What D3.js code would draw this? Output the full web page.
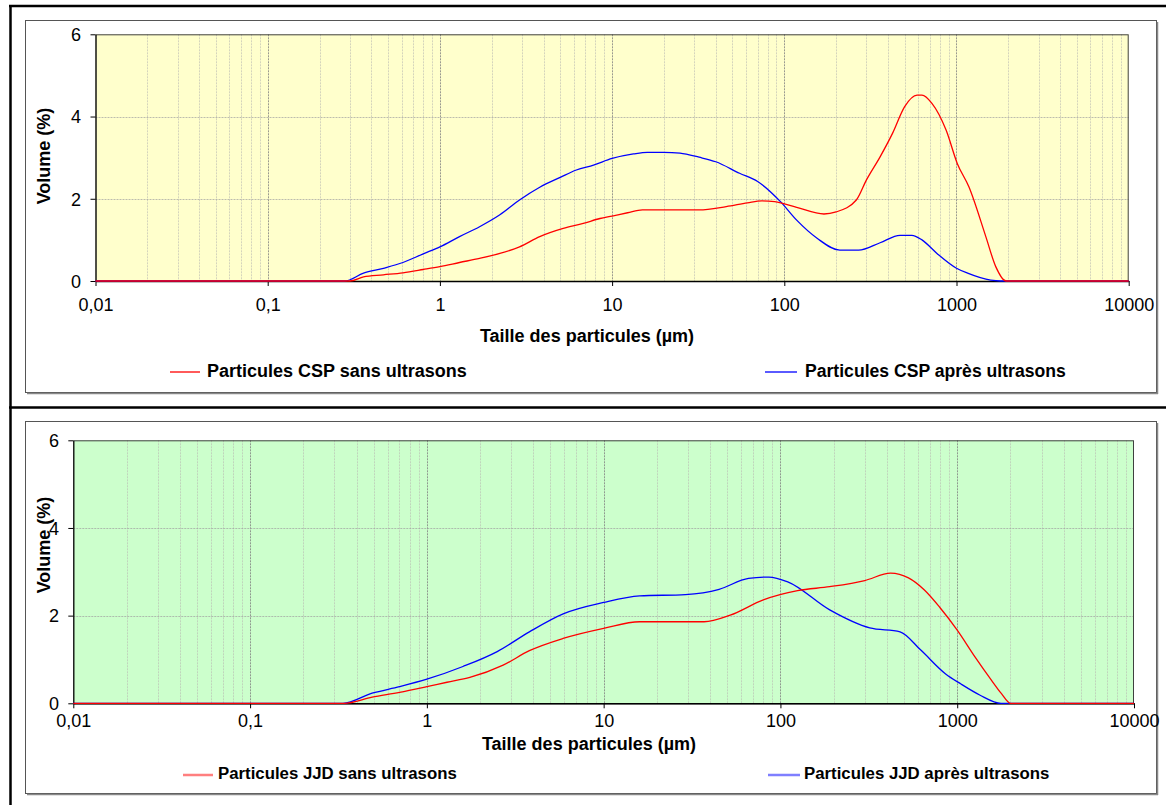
<!DOCTYPE html>
<html><head><meta charset="utf-8">
<script src="https://cdn.jsdelivr.net/npm/d3@7"></script>
<style>
body{margin:0;background:#fff;}
svg{display:block;font-family:"Liberation Sans",Arial,sans-serif;}
</style></head>
<body><svg id="c" width="1166" height="805"></svg>
<script>
// ---------- DATA ----------
const xTickValues = [0.01, 0.1, 1, 10, 100, 1000, 10000];
const xTickLabels = ["0,01", "0,1", "1", "10", "100", "1000", "10000"];
const yTickValues = [0, 2, 4, 6];
const yTickLabels = ["0", "2", "4", "6"];
const xTitle = "Taille des particules (µm)";
const yTitle = "Volume (%)";

// Chart 1 : CSP
const cspSansSizes = [0.01, 0.3, 0.36, 0.47, 0.61, 0.8, 1, 1.3, 1.7, 2.23, 2.9, 3.8, 5.2, 6.8, 8.5, 10, 12.3, 15, 32, 46, 61, 74, 88, 118, 170, 200, 262, 300, 360, 425, 500, 590, 630, 720, 870, 1010, 1180, 1480, 1690, 1940, 10000];
const cspSansVals  = [0, 0, 0.10, 0.15, 0.20, 0.28, 0.35, 0.45, 0.55, 0.67, 0.83, 1.08, 1.28, 1.40, 1.52, 1.58, 1.66, 1.73, 1.73, 1.81, 1.90, 1.95, 1.93, 1.79, 1.63, 1.68, 1.97, 2.46, 3.02, 3.59, 4.24, 4.52, 4.52, 4.32, 3.67, 2.86, 2.29, 1.08, 0.35, 0, 0];
const cspApresSizes = [0.01, 0.28, 0.36, 0.47, 0.61, 0.8, 1, 1.3, 1.7, 2.23, 2.9, 3.8, 5.0, 6.2, 7.8, 10, 13.3, 16, 20, 24.8, 32, 40, 55, 70, 95, 118, 155, 210, 270, 360, 470, 550, 630, 770, 1000, 1160, 1580, 1800, 10000];
const cspApresVals  = [0, 0, 0.19, 0.31, 0.45, 0.66, 0.83, 1.08, 1.32, 1.61, 1.97, 2.28, 2.52, 2.70, 2.82, 2.98, 3.09, 3.13, 3.13, 3.11, 3.01, 2.90, 2.62, 2.42, 1.93, 1.48, 1.04, 0.75, 0.75, 0.93, 1.11, 1.11, 1.00, 0.67, 0.31, 0.19, 0.02, 0, 0];

// Chart 2 : JJD
const jjdSansSizes = [0.01, 0.34, 0.49, 0.7, 1, 1.3, 1.75, 2.7, 3.8, 5.9, 10, 16, 37, 52, 80, 125, 190, 300, 420, 530, 650, 800, 1000, 1260, 1560, 1780, 2000, 10000];
const jjdSansVals  = [0, 0, 0.14, 0.25, 0.38, 0.48, 0.59, 0.87, 1.20, 1.48, 1.71, 1.86, 1.86, 2.01, 2.36, 2.57, 2.66, 2.80, 2.97, 2.86, 2.59, 2.18, 1.67, 1.06, 0.53, 0.22, 0, 0];
const jjdApresSizes = [0.01, 0.335, 0.49, 0.7, 1, 1.6, 2.5, 3.8, 5.9, 10, 16, 29, 45, 66, 86, 110, 190, 320, 475, 620, 860, 1050, 1340, 1770, 10000];
const jjdApresVals  = [0, 0, 0.23, 0.38, 0.55, 0.84, 1.18, 1.63, 2.04, 2.30, 2.45, 2.48, 2.60, 2.85, 2.88, 2.77, 2.13, 1.72, 1.63, 1.22, 0.67, 0.44, 0.19, 0, 0];

const legendTop = ["Particules CSP sans ultrasons", "Particules CSP après ultrasons"];
const legendBottom = ["Particules JJD sans ultrasons", "Particules JJD après ultrasons"];

// ---------- DRAW ----------
const svg = d3.select("#c");
const FS = 18;

// outer frame
svg.append("line").attr("x1",10.5).attr("x2",10.5).attr("y1",5).attr("y2",805).attr("stroke","#000").attr("stroke-width",2.5);
svg.append("line").attr("x1",9).attr("x2",1166).attr("y1",6).attr("y2",6).attr("stroke","#000").attr("stroke-width",2.5);
svg.append("line").attr("x1",9).attr("x2",1166).attr("y1",407.5).attr("y2",407.5).attr("stroke","#000").attr("stroke-width",2.5);

function drawChart(cfg){
  const g = svg.append("g");
  // inner chart frame
  g.append("rect").attr("x",cfg.frame[0]+0.5).attr("y",cfg.frame[1]+0.5)
    .attr("width",cfg.frame[2]-cfg.frame[0]).attr("height",cfg.frame[3]-cfg.frame[1])
    .attr("fill","#fff").attr("stroke","#555").attr("stroke-width",1);
  g.append("line").attr("x1",cfg.frame[2]+1.5).attr("x2",cfg.frame[2]+1.5).attr("y1",cfg.frame[1]+2).attr("y2",cfg.frame[3]+2)
    .attr("stroke","#888").attr("stroke-width",1.5);
  g.append("line").attr("x1",cfg.frame[0]+2).attr("x2",cfg.frame[2]+2).attr("y1",cfg.frame[3]+1.5).attr("y2",cfg.frame[3]+1.5)
    .attr("stroke","#888").attr("stroke-width",1.5);

  const x = d3.scaleLog().domain([0.01,10000]).range([cfg.plot[0],cfg.plot[2]]);
  const y = d3.scaleLinear().domain([0,6]).range([cfg.plot[3],cfg.plot[1]]);
  const pw = cfg.plot[2]-cfg.plot[0], ph = cfg.plot[3]-cfg.plot[1];

  g.append("rect").attr("x",cfg.plot[0]).attr("y",cfg.plot[1]).attr("width",pw).attr("height",ph).attr("fill",cfg.bg);

  // minor vertical grid
  const minors = [];
  for (let e=-2;e<4;e++) for (let m=2;m<=9;m++) minors.push(m*Math.pow(10,e));
  g.append("g").selectAll("line").data(minors).join("line")
    .attr("x1",d=>Math.round(x(d))+0.5).attr("x2",d=>Math.round(x(d))+0.5)
    .attr("y1",cfg.plot[1]).attr("y2",cfg.plot[3])
    .attr("stroke","#b8b8b0").attr("stroke-opacity",0.6).attr("stroke-dasharray","2,1");
  // major vertical grid
  g.append("g").selectAll("line").data(xTickValues.slice(1,-1)).join("line")
    .attr("x1",d=>Math.round(x(d))+0.5).attr("x2",d=>Math.round(x(d))+0.5)
    .attr("y1",cfg.plot[1]).attr("y2",cfg.plot[3])
    .attr("stroke","#808080").attr("stroke-opacity",0.8).attr("stroke-dasharray","2,1");
  // horizontal grid
  g.append("g").selectAll("line").data([2,4]).join("line")
    .attr("x1",cfg.plot[0]).attr("x2",cfg.plot[2])
    .attr("y1",d=>Math.round(y(d))+0.5).attr("y2",d=>Math.round(y(d))+0.5)
    .attr("stroke","#a0a0a0").attr("stroke-opacity",0.7).attr("stroke-dasharray","2,1");

  // plot border
  g.append("rect").attr("x",cfg.plot[0]+0.5).attr("y",cfg.plot[1]+0.5).attr("width",pw-1).attr("height",ph)
    .attr("fill","none").attr("stroke","#404040").attr("stroke-width",1);

  // axes
  const xAxis = d3.axisBottom(x).tickValues(xTickValues).tickFormat((d,i)=>xTickLabels[i]).tickSize(5).tickSizeOuter(0);
  const xa = g.append("g").attr("transform",`translate(0,${cfg.plot[3]})`).call(xAxis);
  xa.select(".domain").attr("stroke","#000").attr("stroke-width",1.5);
  xa.selectAll(".tick line").attr("stroke","#000");
  xa.selectAll(".tick text").attr("font-size",FS).attr("fill","#000").attr("font-family","Liberation Sans, Arial").attr("dy",null).attr("y",cfg.xLabelY-cfg.plot[3]).attr("dominant-baseline","middle");

  const yAxis = d3.axisLeft(y).tickValues(yTickValues).tickFormat((d,i)=>yTickLabels[i]).tickSize(5).tickSizeOuter(0);
  const ya = g.append("g").attr("transform",`translate(${cfg.plot[0]},0)`).call(yAxis);
  ya.select(".domain").attr("stroke","#000");
  ya.selectAll(".tick line").attr("stroke","#000");
  ya.selectAll(".tick text").attr("font-size",FS).attr("fill","#000").attr("font-family","Liberation Sans, Arial").attr("x",cfg.yLabelX-cfg.plot[0]).attr("dy","0.35em");

  // series
  const line = d3.line().x(d=>x(d[0])).y(d=>y(d[1])).curve(d3.curveMonotoneX);
  cfg.series.forEach(s=>{
    const pts = s.sizes.map((v,i)=>[v,s.vals[i]]);
    g.append("path").datum(pts).attr("d",line).attr("fill","none").attr("stroke",s.color).attr("stroke-width",1.3).attr("stroke-linejoin","round");
  });

  // titles
  g.append("text").attr("x",cfg.xTitlePos[0]).attr("y",cfg.xTitlePos[1]).attr("text-anchor","middle").attr("dominant-baseline","middle")
    .attr("font-size",FS).attr("font-weight","bold").text(xTitle);
  g.append("text").attr("transform",`translate(${cfg.yTitlePos[0]},${cfg.yTitlePos[1]}) rotate(-90)`).attr("text-anchor","middle").attr("dominant-baseline","middle")
    .attr("font-size",FS).attr("font-weight","bold").text(yTitle);

  // legend
  cfg.legend.forEach(l=>{
    g.append("line").attr("x1",l.x1).attr("x2",l.x2).attr("y1",l.y).attr("y2",l.y).attr("stroke",l.color).attr("stroke-width",l.w).attr("stroke-opacity",l.op);
    g.append("text").attr("x",l.tx).attr("y",l.y).attr("dominant-baseline","middle").attr("font-size",l.fs).attr("font-weight","bold").text(l.text);
  });
}

drawChart({
  frame:[25,20,1156,392],
  plot:[95.5,34.3,1128.7,281],
  bg:"#FFFFCC",
  xLabelY:306, yLabelX:81,
  xTitlePos:[587,337], yTitlePos:[45,156],
  series:[{sizes:cspApresSizes, vals:cspApresVals, color:"#0000ff"},{sizes:cspSansSizes, vals:cspSansVals, color:"#ff0000"}],
  legend:[{x1:170,x2:200,y:372,color:"#ff0000",w:1.3,op:1,tx:207,fs:18,text:legendTop[0]},
          {x1:765,x2:797,y:372,color:"#0000ff",w:1.3,op:1,tx:805,fs:17.6,text:legendTop[1]}]
});
drawChart({
  frame:[25,421,1156,793],
  plot:[73.3,440.3,1134,703.3],
  bg:"#CCFFCC",
  xLabelY:722, yLabelX:59,
  xTitlePos:[589,745], yTitlePos:[45,545],
  series:[{sizes:jjdApresSizes, vals:jjdApresVals, color:"#0000ff"},{sizes:jjdSansSizes, vals:jjdSansVals, color:"#ff0000"}],
  legend:[{x1:183,x2:213,y:775,color:"#ff0000",w:2.5,op:0.5,tx:218,fs:16.8,text:legendBottom[0]},
          {x1:768,x2:800,y:775,color:"#0000ff",w:2.5,op:0.5,tx:804,fs:16.8,text:legendBottom[1]}]
});
</script></body></html>
